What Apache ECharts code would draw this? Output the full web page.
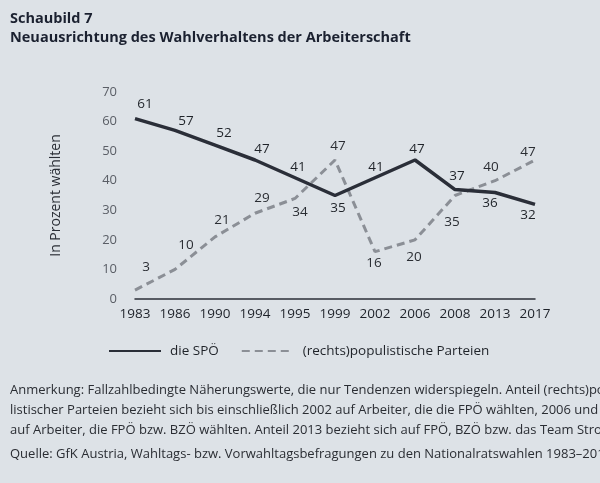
<!DOCTYPE html>
<html><head><meta charset="utf-8">
<script src="https://cdn.jsdelivr.net/npm/echarts@6/dist/echarts.min.js"></script>
<style>html,body{margin:0;padding:0;background:#dde2e7}#c{width:600px;height:483px}</style>
</head><body><div id="c"></div>
<script>
const years = ['1983','1986','1990','1994','1995','1999','2002','2006','2008','2013','2017'];
const spoe = [61,57,52,47,41,35,41,47,37,36,32];
const populist = [3,10,21,29,34,47,16,20,35,40,47];
const yTicks = [0,10,20,30,40,50,60,70];
const seriesNames = ['die SPÖ','(rechts)populistische Parteien'];
// label placement offsets (dx, dy) per point
const spoeLabelOff = [[10,-14],[11,-9],[9,-12],[7,-11],[3,-11],[3,13],[1,-11],[2,-11],[2,-13],[-5,11],[-7,11]];
const popLabelOff = [[11,-23],[11,-24],[7,-17],[7,-15],[5,14],[3,-14],[-1,11],[-1,17],[-3,27],[-4,-14],[-7,-8]];

const FONT = '"Open Sans", "Noto Sans", sans-serif';
function mk(vals, offs){
  return vals.map((v,i)=>({value:v,label:{offset:offs[i]}}));
}
const chart = echarts.init(document.getElementById('c'));
const noteLines = [
 'Anmerkung: Fallzahlbedingte Näherungswerte, die nur Tendenzen widerspiegeln. Anteil (rechts)popu-',
 'listischer Parteien bezieht sich bis einschließlich 2002 auf Arbeiter, die die FPÖ wählten, 2006 und 2008',
 'auf Arbeiter, die FPÖ bzw. BZÖ wählten. Anteil 2013 bezieht sich auf FPÖ, BZÖ bzw. das Team Stronach.',
 'Quelle: GfK Austria, Wahltags- bzw. Vorwahltagsbefragungen zu den Nationalratswahlen 1983–2017.'
];
const noteY = [392,412,432,456];
chart.setOption({
  backgroundColor:'#dde2e7',
  animation:false,
  textStyle:{fontFamily:FONT},
  title:[{text:'Schaubild 7\nNeuausrichtung des Wahlverhaltens der Arbeiterschaft',left:10,top:9,padding:0,
    textStyle:{fontSize:14.5,fontWeight:'bold',color:'#1b2130',lineHeight:19,fontFamily:FONT}}],
  graphic: noteLines.map((t,i)=>({type:'text',left:10,top:noteY[i]-8,style:{text:t,fontSize:13,fill:'#2a2d33',fontFamily:FONT}})),
  legend:{bottom:120,left:103,itemWidth:52,itemHeight:10,itemGap:22,
    itemStyle:{opacity:0},
    textStyle:{fontSize:13.5,color:'#1f2329',fontFamily:FONT,padding:[0,0,0,4]},
    data:seriesNames},
  grid:{left:135,right:65,top:92,bottom:184},
  xAxis:{type:'category',data:years,boundaryGap:false,
    axisLine:{lineStyle:{color:'#2b2f38',width:1.5}},axisTick:{show:false},
    axisLabel:{color:'#1e222a',fontSize:13.5,margin:8,interval:0,fontFamily:FONT}},
  yAxis:{type:'value',min:0,max:70,interval:10,
    name:'In Prozent wählten',nameLocation:'middle',nameGap:72,nameRotate:90,
    nameTextStyle:{fontSize:14,color:'#2a2e36',fontFamily:FONT},
    axisLine:{show:false},axisTick:{show:false},splitLine:{show:false},
    axisLabel:{color:'#5a5e66',fontSize:13,margin:18,fontFamily:FONT,
      formatter:v=>yTicks.includes(v)?String(v):''}},
  series:[
    {name:seriesNames[0],type:'line',data:mk(spoe,spoeLabelOff),symbol:'circle',symbolSize:0,showSymbol:true,
     lineStyle:{color:'#2a2e38',width:3.5},itemStyle:{color:'#2a2e38'},
     label:{show:true,position:'inside',color:'#1f2329',fontSize:13.5,fontFamily:FONT},z:3},
    {name:seriesNames[1],type:'line',data:mk(populist,popLabelOff),symbol:'circle',symbolSize:0,showSymbol:true,
     lineStyle:{color:'#8b8f96',width:3,type:[8,5]},itemStyle:{color:'#8b8f96'},
     label:{show:true,position:'inside',color:'#2a2d33',fontSize:13.5,fontFamily:FONT},z:2}
  ]
});
</script></body></html>
